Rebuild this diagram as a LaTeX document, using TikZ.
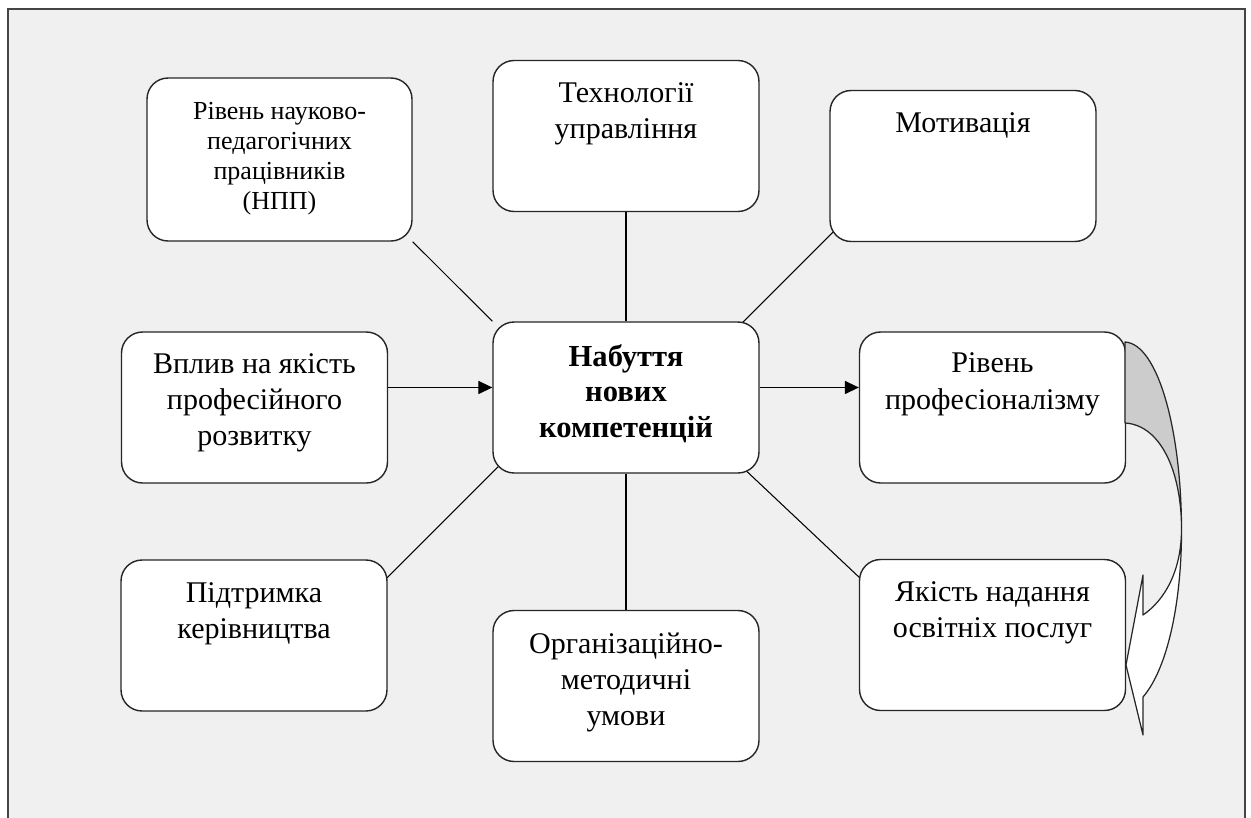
\documentclass[tikz,border=0pt]{standalone}
\usepackage{fontspec}
\setmainfont{Liberation Serif}
\usetikzlibrary{arrows.meta,positioning,backgrounds}
\definecolor{panel}{HTML}{F0F0F0}
\definecolor{backface}{HTML}{CCCCCC}
\definecolor{rim}{HTML}{454545}

\begin{document}
\begin{tikzpicture}[x=0.02cm,y=-0.02cm,
  box/.style={draw=black!85,line width=0.8pt,fill=white,rounded corners=0.42cm,
    minimum width=5.32cm,minimum height=3.02cm,inner sep=0pt},
  boxtext/.style={align=center,inner sep=0pt,font=\fontsize{17.1pt}{20.6pt}\selectfont},
  link/.style={line width=0.6pt},
  flow/.style={line width=0.6pt,-{Triangle[length=8pt,width=7.5pt]}},
  sweep/.style={line width=0.7pt,draw=black!85,line join=round}]
\useasboundingbox (0,0) rectangle (1251,818);

% boxes
\node[box,minimum width=5.3cm,minimum height=3.26cm] (npp) at (279.5,159.5) {};
\node[box] (tech) at (626,136) {};
\node[box] (motiv) at (963,166) {};
\node[box] (vplyv) at (254.5,407.5) {};
\node[box] (hub) at (626,397.5) {};
\node[box] (prof) at (992.5,407.5) {};
\node[box] (support) at (254,635.5) {};
\node[box] (orgmet) at (626,686) {};
\node[box] (quality) at (992.5,635) {};

% texts
\node[boxtext,font=\fontsize{14.8pt}{17pt}\selectfont,below=14pt of npp.north] (npp-t)
  {Рівень науково-\\педагогічних\\працівників\\(НПП)};
\node[boxtext,below=12.8pt of tech.north] (tech-t) {Технології\\управління};
\node[boxtext,below=12.8pt of motiv.north] (motiv-t) {Мотивація};
\node[boxtext,below=12.5pt of vplyv.north] (vplyv-t) {Вплив на якість\\професійного\\розвитку};
\node[boxtext,font=\fontsize{17.4pt}{20.2pt}\selectfont\bfseries,below=12.8pt of hub.north] (hub-t)
  {Набуття\\нових\\компетенцій};
\node[boxtext,below=12.2pt of prof.north] (prof-t) {Рівень\\професіоналізму};
\node[boxtext,below=12.8pt of support.north] (support-t) {Підтримка\\керівництва};
\node[boxtext,below=12.8pt of orgmet.north] (orgmet-t) {Організаційно-\\методичні\\умови};
\node[boxtext,below=12.8pt of quality.north] (quality-t) {Якість надання\\освітніх послуг};

\begin{pgfonlayer}{background}
\fill[panel] (8,9) rectangle (1245,818);
\draw[rim,line width=1.1pt] (8,818) |- (1245,9) -- (1245,818);
\draw[link] (npp.south east) -- (hub.north west);
\draw[link] (tech.south) -- (hub.north);
\draw[link] ([xshift=6pt,yshift=9.6pt]motiv.south west) -- ([xshift=-11.9pt,yshift=-2.8pt]hub.north east);
\draw[link] ([xshift=6.8pt,yshift=7.4pt]hub.south west) -- ([xshift=-2.8pt,yshift=-13pt]support.north east);
\draw[link] (hub.south) -- (orgmet.north);
\draw[link] ([xshift=-12.5pt,yshift=6.2pt]hub.south east) -- ([xshift=2.3pt,yshift=-12.5pt]quality.north west);
\end{pgfonlayer}

% arrows
\coordinate (flowrow) at ([yshift=5.7pt]hub.west);
\draw[flow] (flowrow -| vplyv.east) -- (flowrow);
\draw[flow] (hub.east |- flowrow) -- (prof.west |- flowrow);

% curved arrow
\filldraw[sweep,fill=backface] (1125,342) .. controls (1158,344) and (1181,430) .. (1181.5,527)
  .. controls (1181,470) and (1160,425) .. (1125,423) -- cycle;
\filldraw[sweep,fill=white] (1181.5,527) .. controls (1182,600) and (1168,668) .. (1143,697)
  -- (1143,735) -- (1126,665) -- (1143,575) -- (1143,615)
  .. controls (1165,600) and (1182,570) .. (1181.5,527) -- cycle;
\end{tikzpicture}
\end{document}
